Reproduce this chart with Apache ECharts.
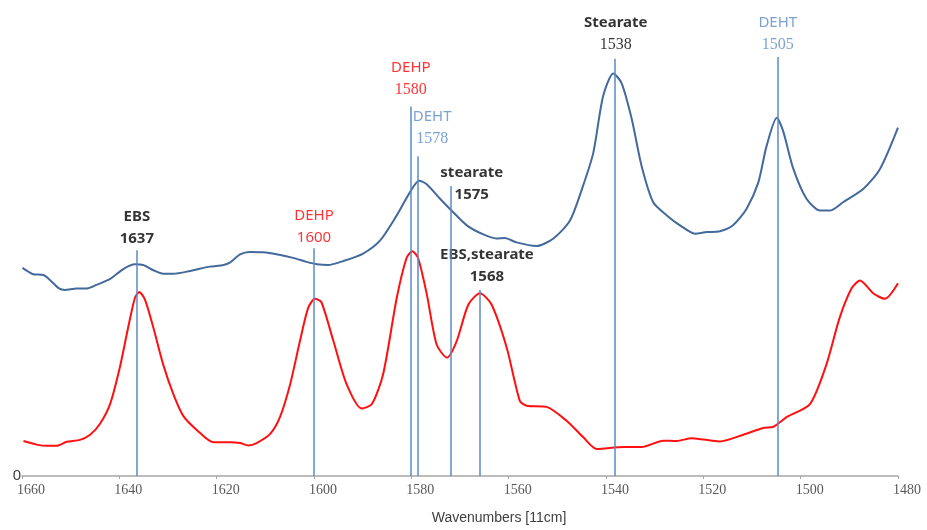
<!DOCTYPE html>
<html>
<head>
<meta charset="utf-8">
<script src="https://cdn.jsdelivr.net/npm/echarts@6/dist/echarts.min.js"></script>
<style>
  html, body { margin: 0; padding: 0; background: #fff; }
  #chart { width: 927px; height: 530px; }
</style>
</head>
<body>
<div id="chart"></div>
<script>
// upper spectrum (blue)
const blueX = [1659.9, 1657.7, 1655.6, 1654.2, 1652.5, 1651.2, 1648.8, 1646.7, 1644.7, 1641.9, 1639.2, 1636.8, 1635.1, 1633.0, 1631.0, 1628.9, 1625.5, 1621.4, 1618.6, 1617.3, 1615.2, 1613.2, 1610.4, 1607.7, 1604.3, 1601.5, 1599.4, 1597.1, 1594.0, 1589.9, 1586.4, 1583.0, 1580.3, 1578.4, 1576.9, 1574.1, 1571.4, 1568.6, 1565.2, 1562.5, 1560.8, 1558.4, 1554.3, 1550.8, 1547.4, 1544.7, 1542.6, 1540.6, 1538.5, 1536.8, 1534.7, 1532.7, 1530.3, 1527.5, 1524.8, 1521.7, 1519.3, 1516.6, 1513.9, 1511.1, 1508.7, 1507.0, 1504.9, 1503.6, 1501.5, 1498.8, 1496.0, 1494.0, 1491.3, 1487.1, 1483.7, 1480.0];
const blueY = [52.4, 50.8, 50.6, 49.3, 47.3, 46.8, 47.2, 47.2, 48.1, 49.6, 52.1, 53.3, 53.1, 51.8, 50.9, 50.9, 51.6, 52.7, 53.1, 53.7, 55.8, 56.4, 56.3, 55.8, 54.9, 53.9, 53.3, 53.1, 54.1, 56.0, 59.3, 65.6, 71.4, 74.3, 73.5, 69.8, 66.4, 63.1, 60.8, 59.8, 59.9, 58.8, 57.9, 59.8, 64.3, 73.1, 81.4, 95.6, 101.3, 98.9, 89.8, 78.1, 68.9, 65.6, 63.1, 61.0, 61.4, 61.6, 63.1, 67.3, 73.9, 83.1, 90.2, 86.8, 77.3, 69.8, 66.8, 66.8, 68.9, 72.3, 77.3, 87.7];

// lower spectrum (red)
const redX = [1659.7, 1657.0, 1654.9, 1652.9, 1650.8, 1648.1, 1646.0, 1644.0, 1641.9, 1639.9, 1638.2, 1636.8, 1635.9, 1634.7, 1633.0, 1631.0, 1628.9, 1626.9, 1624.1, 1620.7, 1617.3, 1615.2, 1613.5, 1611.8, 1609.0, 1607.0, 1604.9, 1602.9, 1601.2, 1599.8, 1598.5, 1596.0, 1593.3, 1590.2, 1588.1, 1585.8, 1583.0, 1581.0, 1579.8, 1578.6, 1576.8, 1574.8, 1572.7, 1570.7, 1568.3, 1565.9, 1563.5, 1560.4, 1557.7, 1556.3, 1552.2, 1548.1, 1544.7, 1541.9, 1536.4, 1532.7, 1528.2, 1525.5, 1522.4, 1516.6, 1511.8, 1507.7, 1505.6, 1502.9, 1498.1, 1494.7, 1492.0, 1489.5, 1487.8, 1485.1, 1482.7, 1480.0];
const redY = [8.8, 7.9, 7.6, 7.6, 8.6, 9.1, 10.4, 13.1, 18.1, 27.3, 37.3, 44.8, 46.3, 44.3, 37.3, 28.1, 20.6, 15.2, 11.6, 8.5, 8.5, 8.3, 7.7, 8.3, 10.6, 14.8, 23.1, 33.9, 42.3, 44.6, 43.8, 33.9, 23.1, 17.0, 18.1, 25.6, 44.8, 54.8, 56.6, 54.8, 45.6, 33.1, 29.8, 33.9, 43.1, 46.0, 43.1, 32.3, 18.9, 17.7, 17.4, 13.9, 9.8, 6.8, 7.3, 7.3, 8.9, 8.8, 9.5, 8.7, 10.4, 12.1, 12.4, 14.8, 18.1, 28.1, 39.8, 47.3, 49.2, 46.0, 44.6, 48.5];

// peak annotations
const peakNames = ['EBS', 'DEHP', 'DEHP', 'DEHT', 'stearate', 'EBS,stearate', 'Stearate', 'DEHT'];
const peakLabels = ['1637', '1600', '1580', '1578', '1575', '1568', '1538', '1505'];
const peakLineAt = [1636.4, 1600.0, 1580.1, 1578.6, 1571.9, 1565.9, 1538.2, 1504.7];
const peakLineTop = [56.8, 57.3, 93.0, 80.5, 73.0, 46.8, 105.0, 105.5];

const xTicks = { min: 1480, max: 1660, interval: 20 };

// label look per annotation: name style, number style, pixel nudge
const RED = '#ff0000';
const DEHT_BLUE = '#5b89c8';
const annStyle = [
  { c: '#000', bold: true, serifNum: false, off: [0, -1] },
  { c: RED, bold: false, serifNum: false, off: [0, 0] },
  { c: RED, bold: false, serifNum: true, off: [0, -6] },
  { c: DEHT_BLUE, bold: false, serifNum: true, off: [14, -6] },
  { c: '#000', bold: true, serifNum: false, off: [21, 20] },
  { c: '#000', bold: true, serifNum: false, off: [7, -2] },
  { c: '#000', bold: true, serifNum: true, off: [1, -3] },
  { c: DEHT_BLUE, bold: false, serifNum: true, off: [0, -1] },
];

const zip = (xs, ys) => xs.map((x, i) => [x, ys[i]]);

const chart = echarts.init(document.getElementById('chart'), null, { renderer: 'canvas' });

const annData = peakLineAt.map((x, i) => {
  const s = annStyle[i];
  return {
    value: [x, peakLineTop[i]],
    label: {
      offset: s.off,
      formatter: '{n|' + peakNames[i] + '}\n{v|' + peakLabels[i] + '}',
      rich: {
        n: {
          fontFamily: 'Noto Sans', fontSize: 15, lineHeight: 22,
          fontWeight: s.bold ? 'bold' : 'normal', color: s.c, align: 'center',
        },
        v: s.serifNum
          ? { fontFamily: 'Liberation Serif', fontSize: 16, lineHeight: 22, color: s.c, align: 'center' }
          : { fontFamily: 'Noto Sans', fontSize: 15, lineHeight: 22, color: s.c, align: 'center',
              fontWeight: s.bold ? 'bold' : 'normal' },
      },
    },
  };
});

const option = {
  backgroundColor: '#fff',
  animation: false,
  grid: { left: 22, right: 29, top: 39, bottom: 51 },
  xAxis: {
    type: 'value',
    inverse: true,
    min: xTicks.min,
    max: xTicks.max,
    interval: xTicks.interval,
    name: 'Wavenumbers [11cm]',
    nameLocation: 'middle',
    nameGap: 35,
    nameTextStyle: { fontFamily: 'Liberation Sans', fontSize: 14, color: '#404040', padding: [0, 0, 0, 78] },
    axisLine: { show: true, lineStyle: { color: '#a6a6a6', width: 1.5 } },
    axisTick: { show: true, length: 3, lineStyle: { color: '#a6a6a6' } },
    axisLabel: {
      fontFamily: 'Liberation Serif', fontSize: 14, color: '#595959', margin: 7, padding: [0, 0, 0, 18],
      formatter: v => String(v),
    },
    splitLine: { show: false },
  },
  yAxis: {
    type: 'value',
    min: 0,
    max: 110,
    interval: 110,
    axisLine: { show: false },
    axisTick: { show: false },
    splitLine: { show: false },
    axisLabel: {
      margin: 1,
      fontFamily: 'Liberation Sans', fontSize: 15, color: '#404040',
      formatter: v => (v === 0 ? '0' : ''),
    },
  },
  series: [
    {
      name: 'upper',
      type: 'line',
      data: zip(blueX, blueY),
      smooth: 0.25,
      showSymbol: false,
      lineStyle: { color: '#44699b', width: 2 },
      z: 3,
    },
    {
      name: 'lower',
      type: 'line',
      data: zip(redX, redY),
      smooth: 0.25,
      showSymbol: false,
      lineStyle: { color: '#ff1010', width: 2 },
      z: 3,
    },
    {
      name: 'peaks',
      type: 'scatter',
      symbolSize: 0,
      data: annData,
      silent: true,
      label: { show: true, position: 'top', distance: 0 },
      markLine: {
        silent: true,
        symbol: ['none', 'none'],
        label: { show: false },
        lineStyle: { color: '#5b8ac6', width: 1.5, type: 'solid' },
        data: peakLineAt.map((x, i) => [{ coord: [x, 0] }, { coord: [x, peakLineTop[i]] }]),
      },
      z: 2,
    },
  ],
};

chart.setOption(option);
</script>
</body>
</html>
